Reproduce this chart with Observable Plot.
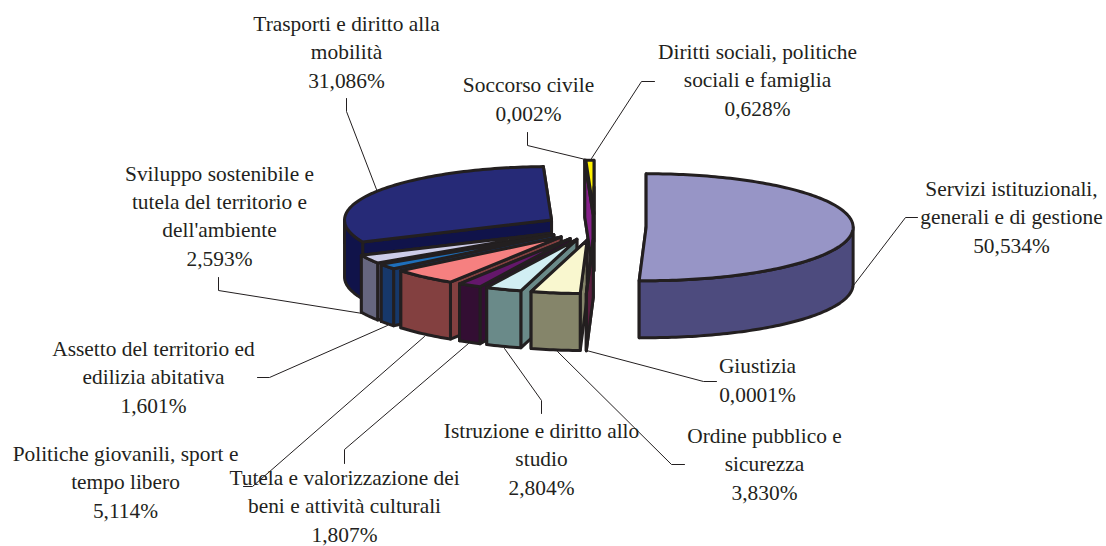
<!DOCTYPE html>
<html><head><meta charset="utf-8">
<style>html,body{margin:0;padding:0;background:#fff}</style>
<script src="https://cdn.jsdelivr.net/npm/d3@7"></script>
<script src="https://cdn.jsdelivr.net/npm/@observablehq/plot@0.6"></script>
</head><body><div id="chart"></div>
<script>
// Data, clockwise from 12 o'clock
const categories = ["Servizi istituzionali,\ngenerali e di gestione","Giustizia","Ordine pubblico e\nsicurezza","Istruzione e diritto allo\nstudio","Tutela e valorizzazione dei\nbeni e attività culturali","Politiche giovanili, sport e\ntempo libero","Assetto del territorio ed\nedilizia abitativa","Sviluppo sostenibile e\ntutela del territorio e\ndell'ambiente","Trasporti e diritto alla\nmobilità","Soccorso civile","Diritti sociali, politiche\nsociali e famiglia"];
const values = [50.534,0.0001,3.83,2.804,1.807,5.114,1.601,2.593,31.086,0.002,0.628];
const valueLabels = ["50,534%","0,0001%","3,830%","2,804%","1,807%","5,114%","1,601%","2,593%","31,086%","0,002%","0,628%"];

// Styles
const topColors  = ["#9795c6","#993366","#f9f7cf","#d1eef3","#64176b","#f68080","#1e6fba","#cdcde9","#262a77","#86208a","#fff200"];
const sideColors = ["#4d4b7e","#5b1f3f","#85856a","#6a8a89","#330e33","#834040","#17386a","#66667f","#10134a","#86208a","#231f20"];
const paintOrder = [8,10,9,7,6,5,4,3,2,1,0];
const ink = "#231f20";

// Pie geometry
const pie = {cx:594.5, cy:226.5, rx:207, ry:53.5, depth:57, explode:0.247};

// Label placement: anchor x, last baseline, leader polyline
const labelX = [1011,757,764,541,344,125,153,219,346,528,757];
const labelY = [252,401,499,494,541,517,412,265,87,120,115];
const leaders = [
  [[917,217],[905,217],[853,285]],
  [[716,381],[703,381],[586,350]],
  [[684,464],[671,464],[557,351]],
  [[541,413],[541,400],[504,348]],
  [[344,463],[344,449],[468,343]],
  [[243,486],[252,486],[424,336]],
  [[257,377],[269,377],[387,325]],
  [[218,277],[218,290],[362,313]],
  [[346,98],[346,111],[376,189]],
  [[527,132],[527,145],[585,159]],
  [[654,81],[641,81],[591,158]]
];

const total = d3.sum(values);
const cum = d3.cumsum(values);
const slices = values.map((v,i)=>{
  const a0 = (cum[i]-v)/total*2*Math.PI, a1 = cum[i]/total*2*Math.PI, m=(a0+a1)/2;
  const ox = pie.cx + pie.rx*pie.explode*Math.sin(m), oy = pie.cy - pie.ry*pie.explode*Math.cos(m);
  return {i,a0,a1,ox,oy};
});
const onRim = (s,a,dz=0)=>[s.ox+pie.rx*Math.sin(a), s.oy-pie.ry*Math.cos(a)+dz];
const arc = (s,a,b,dz=0)=>{
  const n = Math.max(2,Math.ceil(Math.abs(b-a)/0.02));
  return d3.range(n+1).map(k=>onRim(s,a+(b-a)*k/n,dz));
};
let rows = [], id = 0;
function poly(pts,fill){
  const g = id++;
  [...pts,pts[0]].forEach(p=>rows.push({x:p[0],y:p[1],g,fill}));
}
const lerp=(p,q,t)=>[p[0]+(q[0]-p[0])*t,p[1]+(q[1]-p[1])*t];
for (const i of paintOrder){
  const s = slices[i], c=[s.ox,s.oy], cb=[s.ox,s.oy+pie.depth];
  const p0=onRim(s,s.a0), p1=onRim(s,s.a1);
  const b0=onRim(s,s.a0,pie.depth), b1=onRim(s,s.a1,pie.depth);
  poly([c,p1,b1,cb],sideColors[i]);
  poly([c,p0,b0,cb],sideColors[i]);
  const lo=Math.max(s.a0,Math.PI/2), hi=Math.min(s.a1,3*Math.PI/2);
  if (hi>lo) poly([...arc(s,lo,hi),...arc(s,hi,lo,pie.depth)],sideColors[i]);
  poly([c,...arc(s,s.a0,s.a1)],topColors[i]);
  if (i===10){ // thin crossing sliver of the Soccorso civile slice seen against this wall
    const sc=slices[9];
    poly([lerp(p1,c,.5),[sc.ox,sc.oy],lerp(c,cb,.47),lerp(b1,cb,.45)],sideColors[9]);
  }
}
const leaderRows = leaders.flatMap((l,i)=>l.map(p=>({x:p[0],y:p[1],i})));
const labels = categories.map((c,i)=>({x:labelX[i],y:labelY[i],t:c+"\n"+valueLabels[i]}));

const chart = Plot.plot({
  width:1106,height:546,margin:0,
  x:{domain:[0,1106],range:[0,1106],axis:null},
  y:{domain:[0,546],range:[0,546],axis:null},
  color:{type:"identity"},
  style:{background:"#fff"},
  marks:[
    Plot.line(leaderRows,{x:"x",y:"y",z:"i",stroke:ink,strokeWidth:1,curve:"linear"}),
    Plot.line(rows,{x:"x",y:"y",z:"g",fill:"fill",stroke:ink,strokeWidth:3,strokeLinejoin:"round",curve:"linear"}),
    Plot.text(labels,{x:"x",y:"y",text:"t",textAnchor:"middle",lineAnchor:"bottom",lineHeight:1.31,fontFamily:"Liberation Serif",fontSize:21.4,fill:ink})
  ]
});
document.getElementById("chart").appendChild(chart);
</script></body></html>
